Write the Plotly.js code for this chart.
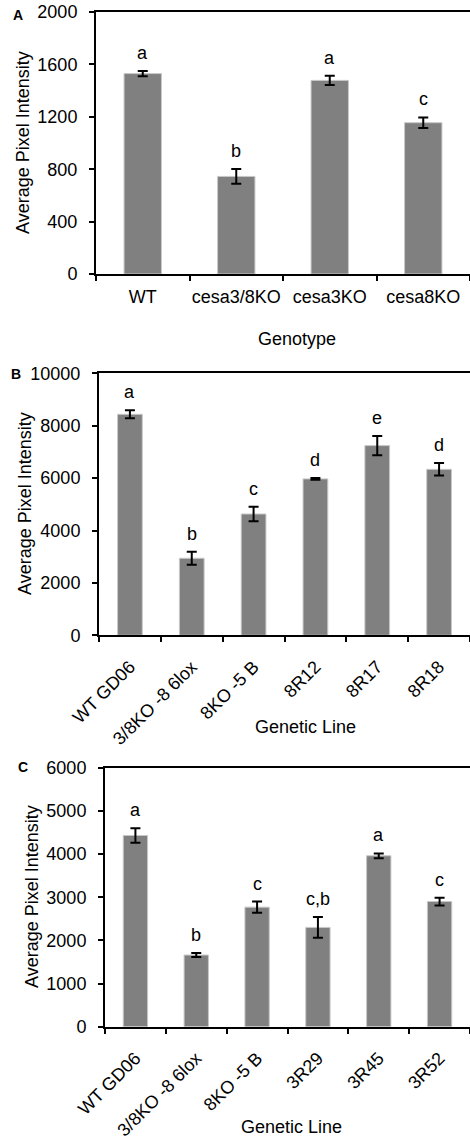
<!DOCTYPE html>
<html>
<head>
<meta charset="utf-8">
<script src="https://cdn.plot.ly/plotly-3.0.1.min.js"></script>
<style>html,body{margin:0;padding:0;overflow:hidden;background:#fff;}#chart{width:470px;height:1139px;}</style>
</head>
<body>
<div id="chart"></div>
<script>
// Panel A
const catsA = ["WT", "cesa3/8KO", "cesa3KO", "cesa8KO"];
const valsA = [1530, 745, 1478, 1155];
const errA = [20, 57, 35, 40];
const lettersA = ["a", "b", "a", "c"];
// Panel B
const catsB = ["WT GD06", "3/8KO -8 6lox", "8KO -5 B", "8R12", "8R17", "8R18"];
const valsB = [8435, 2940, 4630, 5970, 7240, 6335];
const errB = [150, 250, 280, 30, 365, 240];
const lettersB = ["a", "b", "c", "d", "e", "d"];
// Panel C
const catsC = ["WT GD06", "3/8KO -8 6lox", "8KO -5 B", "3R29", "3R45", "3R52"];
const valsC = [4430, 1660, 2770, 2300, 3960, 2900];
const errC = [170, 45, 130, 240, 55, 90];
const lettersC = ["a", "b", "c", "c,b", "a", "c"];

const FONT = "Liberation Sans, Arial, sans-serif";
const W = 470, H = 1139;
const FS = 18;

function barTrace(cats, vals, errs, ax) {
  return {
    type: "bar", x: cats, y: vals, xaxis: "x" + ax, yaxis: "y" + ax,
    width: 0.4,
    marker: {color: "#808080", line: {color: "#c8c8c8", width: 1}},
    error_y: {type: "data", array: errs, visible: true, color: "#000", thickness: 2, width: 5},
    hoverinfo: "skip", showlegend: false
  };
}
function letterAnns(cats, vals, errs, letters, ax) {
  return cats.map((c, i) => ({
    xref: "x" + ax, yref: "y" + ax, x: c, y: vals[i] + errs[i],
    text: letters[i], showarrow: false, xanchor: "center", yanchor: "bottom", yshift: 6,
    font: {family: FONT, size: FS, color: "#000"}
  }));
}
const py = v => 1 - v / H;   // pixel y -> paper
const px = v => v / W;       // pixel x -> paper

const xCommon = {
  type: "category", showline: true, linecolor: "#000", linewidth: 2, mirror: true,
  ticks: "outside", tickson: "boundaries", ticklen: 5, tickwidth: 2, tickcolor: "#000",
  showgrid: false, zeroline: false, automargin: false,
  tickfont: {family: FONT, size: FS, color: "#000"}
};
const yCommon = {
  showline: true, linecolor: "#000", linewidth: 2, ticks: "outside", ticklen: 5,
  tickwidth: 2, tickcolor: "#000", showgrid: false, zeroline: false, automargin: false,
  tickformat: "d", ticklabelstandoff: 8,
  tickfont: {family: FONT, size: FS, color: "#000"}
};

const data = [
  barTrace(catsA, valsA, errA, ""),
  barTrace(catsB, valsB, errB, "2"),
  barTrace(catsC, valsC, errC, "3")
];

const titleFont = {family: FONT, size: FS, color: "#000"};
function paperText(x, y, text, extra) {
  return Object.assign({xref: "paper", yref: "paper", x: px(x), y: py(y), text: text,
    showarrow: false, xanchor: "center", yanchor: "middle", font: titleFont}, extra || {});
}
const panelFont = {family: FONT, size: 14, color: "#000"};
const annotations = [
  ...letterAnns(catsA, valsA, errA, lettersA, ""),
  ...letterAnns(catsB, valsB, errB, lettersB, "2"),
  ...letterAnns(catsC, valsC, errC, lettersC, "3"),
  paperText(297, 339, "Genotype"),
  paperText(305, 727, "Genetic Line"),
  paperText(291, 1127, "Genetic Line"),
  paperText(23, 143, "Average Pixel Intensity", {textangle: -90}),
  paperText(25, 504, "Average Pixel Intensity", {textangle: -90}),
  paperText(32, 897, "Average Pixel Intensity", {textangle: -90}),
  paperText(18, 15, "<b>A</b>", {font: panelFont}),
  paperText(16, 374, "<b>B</b>", {font: panelFont}),
  paperText(23, 767, "<b>C</b>", {font: panelFont})
];

const layout = {
  width: W, height: H, margin: {l: 0, r: 0, t: 0, b: 0},
  paper_bgcolor: "#fff", plot_bgcolor: "#fff",
  font: {family: FONT, size: FS, color: "#000"},
  xaxis: Object.assign({}, xCommon, {domain: [px(96), 1], anchor: "y", tickangle: 0, ticklabelstandoff: 5}),
  yaxis: Object.assign({}, yCommon, {domain: [py(274), py(12)], anchor: "x", range: [0, 2000], dtick: 400}),
  xaxis2: Object.assign({}, xCommon, {domain: [px(99), 1], anchor: "y2", tickangle: -45, ticklabelstandoff: 12}),
  yaxis2: Object.assign({}, yCommon, {domain: [py(635.3), py(373.3)], anchor: "x2", range: [0, 10000], dtick: 2000}),
  xaxis3: Object.assign({}, xCommon, {domain: [px(105), 1], anchor: "y3", tickangle: -45, ticklabelstandoff: 12}),
  yaxis3: Object.assign({}, yCommon, {domain: [py(1026.7), py(767.7)], anchor: "x3", range: [0, 6000], dtick: 1000}),
  annotations: annotations
};

Plotly.newPlot("chart", data, layout, {staticPlot: true, displayModeBar: false});
</script>
</body>
</html>
